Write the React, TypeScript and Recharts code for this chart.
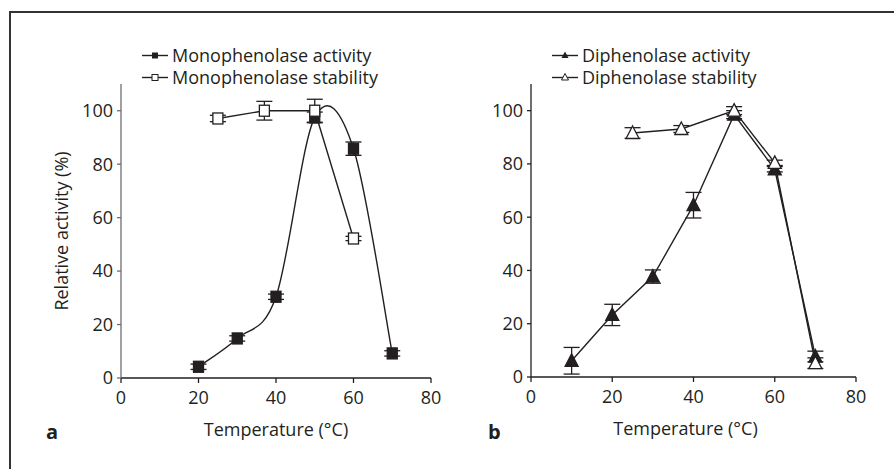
import React from "react";
import { LineChart, Line, XAxis, YAxis, ErrorBar } from "recharts";

// panel a – monophenolase
const tempMonoAct = [20, 30, 40, 50, 60, 70];
const monoAct = [4.2, 14.8, 30.4, 97.5, 85.8, 9.2];
const monoActErr = [1, 1, 1, 2, 2.5, 1];
const tempMonoStab = [25, 37, 50, 60];
const monoStab = [97.1, 100, 100, 52.2];
const monoStabErr = [1.2, 3.5, 4.3, 0.8];

// panel b – diphenolase
const tempDiAct = [10, 20, 30, 40, 50, 60, 70];
const diAct = [6.1, 23.3, 37.7, 64.5, 98.5, 78, 7.7];
const diActErr = [5, 4, 2.5, 4.8, 1.5, 1, 2];
const tempDiStab = [25, 37, 50, 60, 70];
const diStab = [91.6, 93.1, 100, 80.4, 5.2];
const diStabErr = [2, 1.3, 1.5, 1, 2];

const xTicks = [0, 20, 40, 60, 80];
const yTicks = [0, 20, 40, 60, 80, 100];

const FONT = "'Open Sans', sans-serif";
const FS = 18;
const INK = "#231f20";

const rows = (xs: number[], ys: number[], errs: number[]) =>
  xs.map((t, i) => ({ t, v: ys[i], err: errs[i] }));

// Excel-like smoothed line (Catmull-Rom as cubic bezier)
const smoothCurve = (context: any) => {
  let pts: number[][] = [];
  return {
    areaStart() {},
    areaEnd() {},
    lineStart() {
      pts = [];
    },
    point(x: number, y: number) {
      pts.push([+x, +y]);
    },
    lineEnd() {
      if (!pts.length) return;
      context.moveTo(pts[0][0], pts[0][1]);
      for (let i = 0; i < pts.length - 1; i++) {
        const p0 = pts[Math.max(i - 1, 0)];
        const p1 = pts[i];
        const p2 = pts[i + 1];
        const p3 = pts[Math.min(i + 2, pts.length - 1)];
        context.bezierCurveTo(
          p1[0] + (p2[0] - p0[0]) / 6,
          p1[1] + (p2[1] - p0[1]) / 6,
          p2[0] - (p3[0] - p1[0]) / 6,
          p2[1] - (p3[1] - p1[1]) / 6,
          p2[0],
          p2[1]
        );
      }
    },
  };
};

const square = (filled: boolean) => (props: any) => {
  const { cx, cy, index } = props;
  return (
    <rect
      key={`sq-${index}`}
      x={cx - 5}
      y={cy - 5.5}
      width={10}
      height={11}
      fill={filled ? INK : "#fff"}
      stroke={INK}
      strokeWidth={1.3}
    />
  );
};

const triangle = (filled: boolean) => (props: any) => {
  const { cx, cy, index } = props;
  return (
    <path
      key={`tr-${index}`}
      d={`M${cx},${cy - 7} L${cx + 6.5},${cy + 5.5} L${cx - 6.5},${cy + 5.5} Z`}
      fill={filled ? INK : "#fff"}
      stroke={INK}
      strokeWidth={1.3}
    />
  );
};

const tickStyle = { fontSize: FS, fill: INK, fontFamily: FONT };

function LegendRow({ top, left, marker, label }: any) {
  return (
    <div
      style={{
        position: "absolute",
        top,
        left,
        height: 21,
        display: "flex",
        alignItems: "center",
        fontFamily: FONT,
        fontSize: FS,
        lineHeight: "21px",
        color: INK,
        whiteSpace: "nowrap",
      }}
    >
      <svg width={30} height={21} style={{ display: "block" }}>
        <line x1={0} y1={10.5} x2={26} y2={10.5} stroke={INK} strokeWidth={1.4} />
        {marker}
      </svg>
      <span>{label}</span>
    </div>
  );
}

function Panel({
  width,
  margin,
  act,
  stab,
  actDot,
  stabDot,
  actType,
  yLabel,
  yAxisColor,
  xLabelDx,
}: any) {
  return (
    <LineChart width={width} height={469} margin={margin}>
      <XAxis
        type="number"
        dataKey="t"
        domain={[0, 80]}
        ticks={xTicks}
        allowDuplicatedCategory={false}
        stroke={INK}
        strokeWidth={1.3}
        tickSize={5}
        tickMargin={8}
        height={30}
        tick={tickStyle}
        label={{
          value: "Temperature (°C)",
          position: "bottom",
          offset: 15,
          dx: xLabelDx,
          style: { fontSize: FS, fill: INK, fontFamily: FONT },
        }}
      />
      <YAxis
        type="number"
        domain={[0, 110]}
        ticks={yTicks}
        stroke={yAxisColor}
        strokeWidth={1.3}
        tickSize={4}
        tickMargin={4}
        width={40}
        tick={tickStyle}
        label={
          yLabel
            ? {
                value: yLabel,
                angle: -90,
                position: "insideLeft",
                offset: -19,
                style: { textAnchor: "middle", fontSize: FS, fill: INK, fontFamily: FONT },
              }
            : undefined
        }
      />
      <Line
        data={act}
        dataKey="v"
        type={actType}
        stroke={INK}
        strokeWidth={1.4}
        dot={actDot}
        activeDot={false}
        isAnimationActive={false}
      >
        <ErrorBar dataKey="err" width={8} stroke={INK} strokeWidth={1.3} direction="y" />
      </Line>
      <Line
        data={stab}
        dataKey="v"
        type="linear"
        stroke={INK}
        strokeWidth={1.4}
        dot={stabDot}
        activeDot={false}
        isAnimationActive={false}
      >
        <ErrorBar dataKey="err" width={8} stroke={INK} strokeWidth={1.3} direction="y" />
      </Line>
    </LineChart>
  );
}

export default function App() {
  return (
    <div
      style={{
        position: "absolute",
        left: 0,
        top: 0,
        width: 894,
        height: 469,
        background: "#fff",
        overflow: "hidden",
      }}
    >
      <div
        style={{
          position: "absolute",
          left: 9,
          top: 11,
          width: 890,
          height: 470,
          borderTop: "2px solid #333",
          borderLeft: "2px solid #333",
        }}
      />
      <div style={{ position: "absolute", left: 0, top: 0 }}>
        <Panel
          width={450}
          margin={{ top: 84, right: 19, bottom: 61, left: 81 }}
          act={rows(tempMonoAct, monoAct, monoActErr)}
          stab={rows(tempMonoStab, monoStab, monoStabErr)}
          actDot={square(true)}
          stabDot={square(false)}
          actType={smoothCurve}
          yLabel="Relative activity (%)"
          yAxisColor="#6d6e71"
          xLabelDx={0}
        />
      </div>
      <div style={{ position: "absolute", left: 450, top: 0 }}>
        <Panel
          width={444}
          margin={{ top: 84, right: 38, bottom: 62, left: 41 }}
          act={rows(tempDiAct, diAct, diActErr)}
          stab={rows(tempDiStab, diStab, diStabErr)}
          actDot={triangle(true)}
          stabDot={triangle(false)}
          actType="linear"
          yLabel={null}
          yAxisColor={INK}
          xLabelDx={-8}
        />
      </div>

      <LegendRow
        top={45}
        left={142}
        label="Monophenolase activity"
        marker={<rect x={10} y={7.5} width={6} height={6} fill={INK} />}
      />
      <LegendRow
        top={67}
        left={142}
        label="Monophenolase stability"
        marker={<rect x={10} y={7.5} width={6} height={6} fill="#fff" stroke={INK} strokeWidth={1} />}
      />
      <LegendRow
        top={45}
        left={552}
        label="Diphenolase activity"
        marker={<path d="M13,6.5 L16.5,13 L9.5,13 Z" fill={INK} />}
      />
      <LegendRow
        top={67}
        left={552}
        label="Diphenolase stability"
        marker={<path d="M13,6.5 L16.5,13 L9.5,13 Z" fill="#fff" stroke={INK} strokeWidth={1} />}
      />

      <div
        style={{
          position: "absolute",
          left: 46,
          top: 418,
          fontFamily: FONT,
          fontWeight: 700,
          fontSize: 20,
          color: INK,
        }}
      >
        a
      </div>
      <div
        style={{
          position: "absolute",
          left: 488,
          top: 418,
          fontFamily: FONT,
          fontWeight: 700,
          fontSize: 20,
          color: INK,
        }}
      >
        b
      </div>
    </div>
  );
}
